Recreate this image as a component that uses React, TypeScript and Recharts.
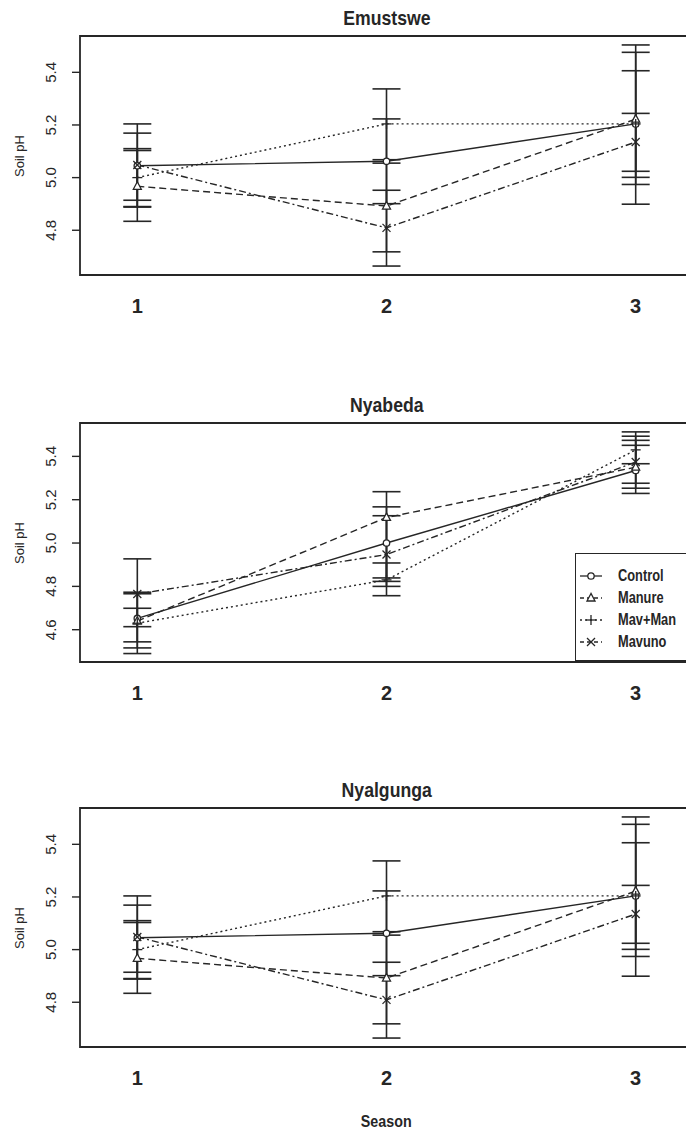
import React from 'react';
import { LineChart, Line, XAxis, YAxis, ErrorBar, ReferenceArea } from 'recharts';

// ---------- data ----------
const seasons = [1, 2, 3];
const treatments = ['Control', 'Manure', 'Mav+Man', 'Mavuno'];
const seasonTicks = [1, 2, 3];
const yTicksShort = [4.8, 5.0, 5.2, 5.4];
const yTicksLong = [4.6, 4.8, 5.0, 5.2, 5.4];

// Emustswe: means per season and [lower, upper] error-bar ends
const emuControl = [5.045, 5.062, 5.204];
const emuControlBar = [[4.888, 5.204], [4.901, 5.223], [4.899, 5.504]];
const emuManure = [4.967, 4.892, 5.222];
const emuManureBar = [[4.834, 5.103], [4.718, 5.055], [4.974, 5.476]];
const emuMavMan = [5.0, 5.204, 5.204];
const emuMavManBar = [[4.89, 5.11], [5.068, 5.337], [5.001, 5.406]];
const emuMavuno = [5.048, 4.809, 5.135];
const emuMavunoBar = [[4.914, 5.169], [4.664, 4.952], [5.024, 5.244]];

// Nyabeda
const nyaControl = [4.652, 5.0, 5.335];
const nyaControlBar = [[4.544, 4.766], [4.839, 5.167], [5.229, 5.451]];
const nyaManure = [4.64, 5.118, 5.35];
const nyaManureBar = [[4.516, 4.773], [4.823, 5.237], [5.253, 5.474]];
const nyaMavMan = [4.63, 4.83, 5.43];
const nyaMavManBar = [[4.49, 4.699], [4.8, 4.908], [5.366, 5.513]];
const nyaMavuno = [4.765, 4.947, 5.374];
const nyaMavunoBar = [[4.614, 4.927], [4.757, 5.126], [5.276, 5.493]];

// Nyalgunga
const nglControl = [5.045, 5.062, 5.204];
const nglControlBar = [[4.888, 5.204], [4.901, 5.223], [4.899, 5.504]];
const nglManure = [4.967, 4.892, 5.222];
const nglManureBar = [[4.834, 5.103], [4.718, 5.055], [4.974, 5.476]];
const nglMavMan = [5.0, 5.204, 5.204];
const nglMavManBar = [[4.89, 5.11], [5.068, 5.337], [5.001, 5.406]];
const nglMavuno = [5.048, 4.809, 5.135];
const nglMavunoBar = [[4.914, 5.169], [4.664, 4.952], [5.024, 5.244]];

// ---------- style ----------
const INK = '#262626';
const SANS = "'Liberation Sans', Arial, 'DejaVu Sans', sans-serif";
const keys = ['control', 'manure', 'mavman', 'mavuno'];
const dashes = [undefined, '7 4', '2 3', '7 3 2 3'];
const markers = ['circle', 'triangle', 'plus', 'cross'];
const X_DOMAIN: [number, number] = [0.77, 3.23];

function buildRows(means: number[][], bars: number[][][]) {
  return seasons.map((s, i) => {
    const row: any = { season: s };
    keys.forEach((k, j) => {
      const m = means[j][i];
      const [lo, hi] = bars[j][i];
      row[k] = m;
      row[k + 'Err'] = [m - lo, hi - m];
    });
    return row;
  });
}

const emuRows = buildRows(
  [emuControl, emuManure, emuMavMan, emuMavuno],
  [emuControlBar, emuManureBar, emuMavManBar, emuMavunoBar]
);
const nyaRows = buildRows(
  [nyaControl, nyaManure, nyaMavMan, nyaMavuno],
  [nyaControlBar, nyaManureBar, nyaMavManBar, nyaMavunoBar]
);
const nglRows = buildRows(
  [nglControl, nglManure, nglMavMan, nglMavuno],
  [nglControlBar, nglManureBar, nglMavManBar, nglMavunoBar]
);

function Narrow({ children, size, scale, origin }: { children: React.ReactNode; size: number; scale: number; origin: string }) {
  return (
    <span
      style={{
        display: 'inline-block',
        fontFamily: SANS,
        fontWeight: 'bold',
        fontSize: size,
        color: INK,
        whiteSpace: 'nowrap',
        transform: `scaleX(${scale})`,
        transformOrigin: origin,
      }}
    >
      {children}
    </span>
  );
}

function MarkerShape({ kind, cx, cy }: { kind: string; cx: number; cy: number }) {
  const s = 4;
  if (kind === 'circle')
    return <circle cx={cx} cy={cy} r={3.2} fill="#fff" stroke={INK} strokeWidth={1.3} />;
  if (kind === 'triangle')
    return (
      <polygon
        points={`${cx},${cy - s - 0.5} ${cx - s},${cy + s - 1} ${cx + s},${cy + s - 1}`}
        fill="#fff"
        stroke={INK}
        strokeWidth={1.3}
      />
    );
  if (kind === 'plus')
    return (
      <g stroke={INK} strokeWidth={1.3}>
        <line x1={cx - s - 1} y1={cy} x2={cx + s + 1} y2={cy} />
        <line x1={cx} y1={cy - s - 1} x2={cx} y2={cy + s + 1} />
      </g>
    );
  return (
    <g stroke={INK} strokeWidth={1.3}>
      <line x1={cx - s} y1={cy - s} x2={cx + s} y2={cy + s} />
      <line x1={cx - s} y1={cy + s} x2={cx + s} y2={cy - s} />
    </g>
  );
}

function LegendBox() {
  return (
    <div
      style={{
        position: 'absolute',
        left: 575,
        top: 0,
        width: 140,
        height: 108,
        border: `1.8px solid ${INK}`,
        background: '#fff',
        boxSizing: 'border-box',
      }}
    >
      {treatments.map((t, i) => (
        <div key={t} style={{ position: 'absolute', left: 0, top: 11 + i * 22, height: 22, width: 140 }}>
          <svg width={28} height={22} style={{ position: 'absolute', left: 2, top: 0 }}>
            <line x1={2} y1={11} x2={24} y2={11} stroke={INK} strokeWidth={1.3} strokeDasharray={dashes[i] ? (i === 2 ? '2 3' : '4 3') : undefined} />
            <MarkerShape kind={markers[i]} cx={13} cy={11} />
          </svg>
          <div style={{ position: 'absolute', left: 42, top: 0, lineHeight: '22px', height: 22 }}>
            <Narrow size={16} scale={0.8} origin="left center">{t}</Narrow>
          </div>
        </div>
      ))}
    </div>
  );
}

function Panel({
  plotTop,
  title,
  rows,
  domain,
  yTicks,
  legend,
}: {
  plotTop: number;
  title: string;
  rows: any[];
  domain: [number, number];
  yTicks: number[];
  legend?: boolean;
}) {
  const chartTop = plotTop - 36;
  const W = 703;
  const H = 325;
  const plotBottom = 36 + 239;
  return (
    <div style={{ position: 'absolute', left: 0, top: chartTop, width: W, height: H }}>
      <div
        style={{
          position: 'absolute',
          left: 80,
          width: 613,
          top: 36 - 18 - 13,
          height: 26,
          lineHeight: '26px',
          textAlign: 'center',
        }}
      >
        <Narrow size={21} scale={0.84} origin="center center">{title}</Narrow>
      </div>
      <div
        style={{
          position: 'absolute',
          left: 19.5 - 40,
          top: 36 + 119.5 - 10,
          width: 80,
          height: 20,
          lineHeight: '20px',
          textAlign: 'center',
          transform: 'rotate(-90deg)',
          fontFamily: SANS,
          fontSize: 13,
          color: INK,
        }}
      >
        Soil pH
      </div>
      <div style={{ position: 'absolute', left: 0, top: 0 }}>
        <LineChart width={W} height={H} data={rows} margin={{ top: 36, right: 10, bottom: 0, left: 0 }}>
          <XAxis
            dataKey="season"
            type="number"
            domain={X_DOMAIN}
            ticks={seasonTicks}
            allowDataOverflow
            axisLine={false}
            tickLine={false}
            height={50}
            tick={(p: any) => (
              <text
                x={p.x}
                y={plotBottom + 31}
                textAnchor="middle"
                dominantBaseline="central"
                fontFamily={SANS}
                fontWeight="bold"
                fontSize={20}
                fill={INK}
              >
                {p.payload.value}
              </text>
            )}
          />
          <YAxis
            type="number"
            domain={domain}
            ticks={yTicks}
            allowDataOverflow
            width={80}
            axisLine={false}
            tickSize={8}
            tickLine={{ stroke: INK, strokeWidth: 1.4 }}
            tick={(p: any) => (
              <text
                x={51}
                y={p.y}
                transform={`rotate(-90, 51, ${p.y})`}
                textAnchor="middle"
                dominantBaseline="central"
                fontFamily={SANS}
                fontSize={15}
                fill={INK}
              >
                {Number(p.payload.value).toFixed(1)}
              </text>
            )}
          />
          <ReferenceArea
            x1={X_DOMAIN[0]}
            x2={X_DOMAIN[1]}
            y1={domain[0]}
            y2={domain[1]}
            fill="none"
            fillOpacity={0}
            stroke={INK}
            strokeWidth={1.8}
            ifOverflow="visible"
          />
          {keys.map((k, i) => (
            <Line
              key={k}
              dataKey={k}
              name={treatments[i]}
              type="linear"
              stroke={INK}
              strokeWidth={1.4}
              strokeDasharray={dashes[i]}
              isAnimationActive={false}
              dot={(p: any) => <MarkerShape key={`${k}-${p.index}`} kind={markers[i]} cx={p.cx} cy={p.cy} />}
              activeDot={false}
            >
              <ErrorBar dataKey={k + 'Err'} direction="y" width={14} stroke={INK} strokeWidth={1.6} />
            </Line>
          ))}
        </LineChart>
      </div>
      {legend ? (
        <div style={{ position: 'absolute', left: 0, top: 553 - chartTop, width: W, height: 110 }}>
          <LegendBox />
        </div>
      ) : null}
    </div>
  );
}

export default function App() {
  return (
    <div
      style={{
        position: 'absolute',
        left: 0,
        top: 0,
        width: 686,
        height: 1133,
        overflow: 'hidden',
        background: '#fff',
      }}
    >
      <Panel plotTop={36} title="Emustswe" rows={emuRows} domain={[4.63, 5.538]} yTicks={yTicksShort} />
      <Panel plotTop={423} title="Nyabeda" rows={nyaRows} domain={[4.451, 5.554]} yTicks={yTicksLong} legend />
      <Panel plotTop={808} title="Nyalgunga" rows={nglRows} domain={[4.63, 5.538]} yTicks={yTicksShort} />
      <div
        style={{
          position: 'absolute',
          left: 80,
          width: 613,
          top: 1122 - 12,
          height: 24,
          lineHeight: '24px',
          textAlign: 'center',
        }}
      >
        <Narrow size={17} scale={0.84} origin="center center">Season</Narrow>
      </div>
    </div>
  );
}
